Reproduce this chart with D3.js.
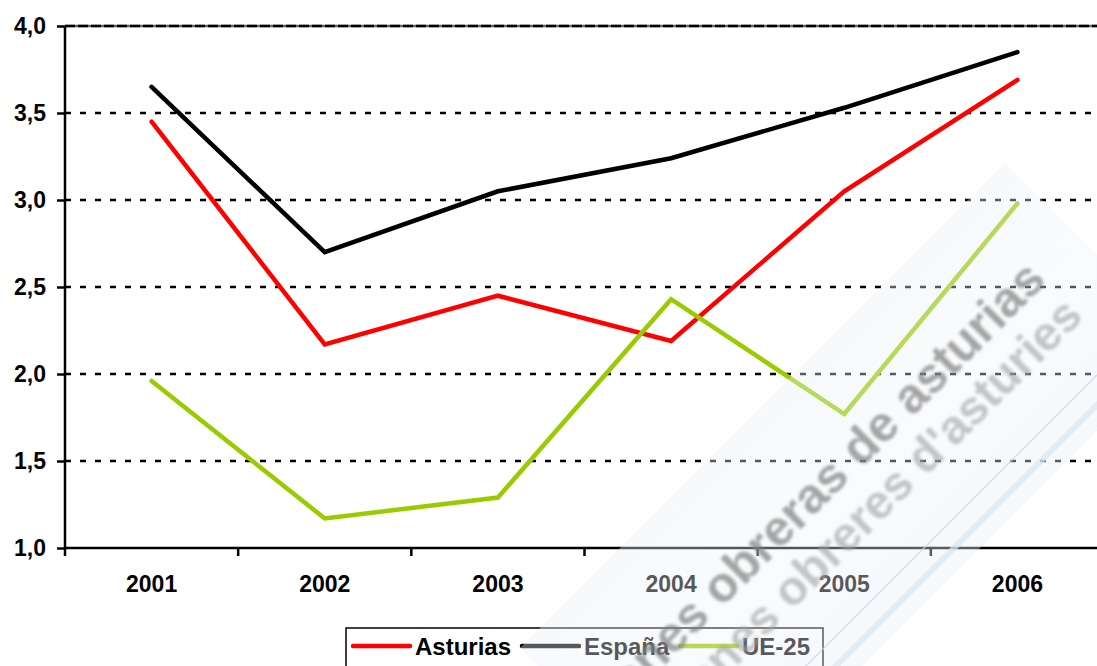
<!DOCTYPE html>
<html lang="es">
<head>
<meta charset="utf-8">
<title>Asturias / España / UE-25</title>
<script type="text/javascript" src="https://cdn.jsdelivr.net/npm/d3@7"></script>
<style>
  body { margin: 0; background: #fff; }
  svg { display: block; font-family: "Liberation Sans", Arial, sans-serif; }
</style>
</head>
<body>
<div id="bod"></div>
<script type="text/javascript">
let years = ["2001", "2002", "2003", "2004", "2005", "2006"]
let yTicks = [1.0, 1.5, 2.0, 2.5, 3.0, 3.5, 4.0]

let asturias = [3.45, 2.17, 2.45, 2.19, 3.05, 3.69]
let espana = [3.65, 2.70, 3.05, 3.24, 3.53, 3.85]
let ue25 = [1.96, 1.17, 1.29, 2.43, 1.77, 2.98]

let seriesNames = ["Asturias", "España", "UE-25"]
let seriesColors = ["#ff0000", "#000000", "#99cc00"]

let w = 1097
let h = 666
let svg = d3.select("#bod")
            .append("svg")
            .attr("width", w)
            .attr("height", h);

var x = d3.scaleBand()
    .domain(years)
    .range([65, 1104])
    .padding(0);
var y = d3.scaleLinear()
    .domain([1, 4])
    .range([548, 26]);

// dotted gridlines
svg.append("g")
  .selectAll("line")
  .data(yTicks.filter(d => d > 1 && d < 4))
  .enter().append("line")
    .attr("x1", 65).attr("x2", w)
    .attr("y1", d => y(d)).attr("y2", d => y(d))
    .attr("stroke", "#000")
    .attr("stroke-width", 2.5)
    .attr("stroke-dasharray", "6,9");

// top line (4,0)
svg.append("line")
    .attr("x1", 65).attr("x2", w)
    .attr("y1", y(4)).attr("y2", y(4))
    .attr("stroke", "#666").attr("stroke-width", 2.5);
svg.append("line")
    .attr("x1", 65).attr("x2", w)
    .attr("y1", y(4)).attr("y2", y(4))
    .attr("stroke", "#000").attr("stroke-width", 2.5)
    .attr("stroke-dasharray", "10,3");

// y axis
let yAxis = svg.append("g")
    .attr("transform", "translate(65,0)")
    .call(d3.axisLeft(y)
      .tickValues(yTicks)
      .tickSize(8)
      .tickPadding(11)
      .tickFormat(d => d.toFixed(1).replace(".", ",")));
yAxis.select(".domain").attr("stroke-width", 2.5).attr("d", "M0," + y(1) + "V" + y(4));
yAxis.selectAll(".tick line").attr("stroke-width", 2.5);
yAxis.selectAll("text")
    .attr("font-size", 23).attr("font-weight", "bold")
    .attr("font-family", "Liberation Sans, Arial, sans-serif")
    .attr("fill", "#000");

// x axis: labels at band centres, tick marks at band edges
let xAxis = svg.append("g")
    .attr("transform", "translate(0," + y(1) + ")")
    .call(d3.axisBottom(x).tickSize(0).tickPadding(28));
xAxis.select(".domain").remove();
xAxis.selectAll("text")
    .attr("font-size", 23).attr("font-weight", "bold")
    .attr("font-family", "Liberation Sans, Arial, sans-serif")
    .attr("fill", "#000");
svg.append("line")
    .attr("x1", 65).attr("x2", w)
    .attr("y1", y(1)).attr("y2", y(1))
    .attr("stroke", "#000").attr("stroke-width", 2.5);
svg.append("g")
  .selectAll("line")
  .data(years)
  .enter().append("line")
    .attr("x1", d => x(d)).attr("x2", d => x(d))
    .attr("y1", y(1)).attr("y2", y(1) + 8)
    .attr("stroke", "#000").attr("stroke-width", 2.5);

// series
var line = d3.line()
    .x(function(d, i) { return x(years[i]) + x.bandwidth() / 2; })
    .y(function(d) { return y(d); });

[asturias, espana, ue25].forEach(function(data, i) {
  svg.append("path")
      .datum(data)
      .attr("fill", "none")
      .attr("stroke", seriesColors[i])
      .attr("stroke-width", 4.5)
      .attr("stroke-linecap", "round")
      .attr("stroke-linejoin", "miter")
      .attr("d", line);
});

// legend
let lg = svg.append("g");
lg.append("rect")
    .attr("x", 346).attr("y", 628)
    .attr("width", 477).attr("height", 60)
    .attr("fill", "#fff")
    .attr("stroke", "#000").attr("stroke-width", 1.5);
let lx = [353, 522, 680];
seriesNames.forEach(function(name, i) {
  lg.append("line")
      .attr("x1", lx[i]).attr("x2", lx[i] + 57)
      .attr("y1", 646).attr("y2", 646)
      .attr("stroke", seriesColors[i])
      .attr("stroke-width", 4.5)
      .attr("stroke-linecap", "round");
  lg.append("text")
      .attr("x", lx[i] + 62).attr("y", 655)
      .attr("font-size", 24).attr("font-weight", "bold")
      .attr("fill", "#000")
      .text(name);
});

// watermark band
let defs = svg.append("defs");
defs.append("filter").attr("id", "blur")
  .append("feGaussianBlur").attr("stdDeviation", 1.8);
let grad = defs.append("linearGradient")
    .attr("id", "band")
    .attr("x1", "0").attr("y1", "0").attr("x2", "1").attr("y2", "1");
grad.append("stop").attr("offset", "0").attr("stop-color", "#dfe6ef").attr("stop-opacity", 0.45);
grad.append("stop").attr("offset", "0.5").attr("stop-color", "#eef3f9").attr("stop-opacity", 0.35);
grad.append("stop").attr("offset", "1").attr("stop-color", "#d6e2f0").attr("stop-opacity", 0.5);

let wm = svg.append("g").attr("pointer-events", "none");
// band between x+y=1168 and x+y=1528, upper end at y-x=-842
wm.append("polygon")
    .attr("points", "1005,163 1185,343 700,828 520,648")
    .attr("fill", "url(#band)");
wm.append("line")
    .attr("x1", 1160).attr("y1", 312).attr("x2", 700).attr("y2", 772)
    .attr("stroke", "#c8d6e6").attr("stroke-width", 1.5).attr("opacity", 0.7);
wm.append("line")
    .attr("x1", 1172).attr("y1", 330).attr("x2", 700).attr("y2", 802)
    .attr("stroke", "#dce6f1").attr("stroke-width", 6).attr("opacity", 0.7);
wm.append("text")
    .attr("transform", "translate(1048,282) rotate(-45)")
    .attr("text-anchor", "end")
    .attr("font-size", 50).attr("font-weight", "bold")
    .attr("fill", "#808080").attr("opacity", 0.7)
    .attr("filter", "url(#blur)")
    .text("comisiones obreras de asturias");
wm.append("text")
    .attr("transform", "translate(1085,318) rotate(-45)")
    .attr("text-anchor", "end")
    .attr("font-size", 48).attr("font-weight", "bold")
    .attr("fill", "#a0a0a0").attr("opacity", 0.6)
    .attr("filter", "url(#blur)")
    .text("comisiones obreres d'asturies");
</script>
</body>
</html>
